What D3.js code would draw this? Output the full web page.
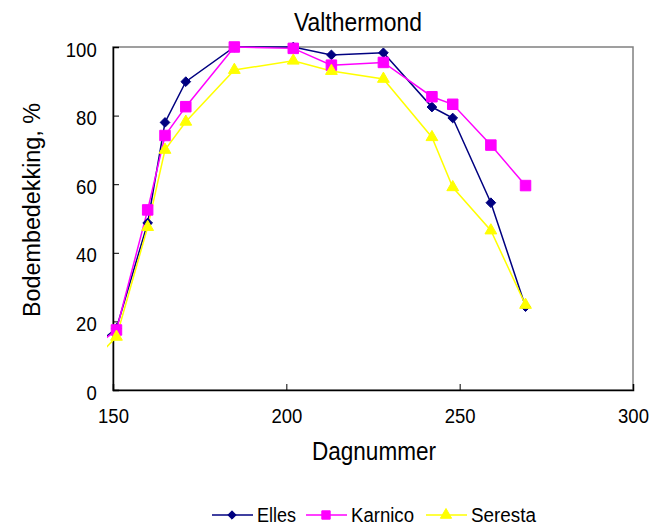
<!DOCTYPE html>
<html><head><meta charset="utf-8">
<script src="https://cdn.jsdelivr.net/npm/d3@7"></script>
<style>body{margin:0;background:#fff}svg{display:block}text{font-family:"Liberation Sans",Arial,sans-serif;fill:#000}</style>
</head><body><div id="chart"></div>
<script>
const days = [140, 151, 160, 165, 171, 185, 202, 213, 228, 242, 248, 259, 269];
const elles   = [9, 18, 48.7, 78, 89.9, 100, 100, 97.7, 98.3, 82.5, 79.3, 54.6, 24.3];
const karnico = [9, 17.5, 52.5, 74.2, 82.6, 100, 99.6, 94.7, 95.5, 85.5, 83.3, 71.4, 59.6];
const seresta = [4, 15.5, 47.5, 70, 78.2, 93.3, 96, 93, 90.7, 73.7, 59.1, 46.5, 24.8];
const xTicks = [150, 200, 250, 300];
const yTicks = [0, 20, 40, 60, 80, 100];
const seriesNames = ["Elles", "Karnico", "Seresta"];
const seriesColors = ["#000080", "#FF00FF", "#FFFF00"];
const seriesSymbols = [d3.symbolDiamond2, d3.symbolSquare, d3.symbolTriangle];

const W = 650, H = 526;
const svg = d3.select("#chart").append("svg").attr("width", W).attr("height", H);
const x = d3.scaleLinear().domain([150, 300]).range([113, 633]);
const y = d3.scaleLinear().domain([0, 100]).range([390, 47]);

svg.append("defs").append("clipPath").attr("id", "clip")
  .append("rect").attr("x", 107).attr("y", 38).attr("width", 534).attr("height", 358);

// plot box
svg.append("rect").attr("x", 113).attr("y", 47).attr("width", 520).attr("height", 343)
  .attr("fill", "none").attr("stroke", "#808080").attr("stroke-width", 1.5);

const gx = svg.append("g").attr("transform", "translate(0,390)")
  .call(d3.axisBottom(x).tickValues(xTicks).tickSize(-6).tickPadding(0).tickFormat(d3.format("d")));
const gy = svg.append("g").attr("transform", "translate(113,0)")
  .call(d3.axisLeft(y).tickValues(yTicks).tickSize(-6).tickPadding(16).tickFormat(d3.format("d")));
[gx, gy].forEach(g => {
  g.select(".domain").attr("stroke", "#000").attr("stroke-width", 1.5);
  g.selectAll(".tick line").attr("stroke", "#000").attr("stroke-width", 1);
  g.selectAll(".tick text").attr("font-size", 20).attr("font-family", "Liberation Sans, Arial, sans-serif")
    .attr("fill", "#000").attr("lengthAdjust", "spacingAndGlyphs")
    .attr("textLength", function () { return this.textContent.length * 10.3; });
});
gx.selectAll(".tick text").attr("dy", null).attr("y", 33);
gy.selectAll(".tick text").attr("x", -16.3).attr("dy", null).attr("y", 9);

const all = [elles, karnico, seresta];
const plot = svg.append("g").attr("clip-path", "url(#clip)");
const line = d3.line().x((d, i) => x(days[i])).y(d => y(d));
all.forEach((vals, k) => {
  plot.append("path").datum(vals).attr("d", line).attr("fill", "none")
    .attr("stroke", seriesColors[k]).attr("stroke-width", 1.5);
});
const markerSize = [60, 110, 60];
all.forEach((vals, k) => {
  const sym = d3.symbol().type(seriesSymbols[k]).size(markerSize[k]);
  plot.selectAll(null).data(vals.map((v, i) => [days[i], v]).filter(d => d[0] >= 150))
    .join("path").attr("d", sym)
    .attr("transform", d => `translate(${x(d[0])},${y(d[1])})`)
    .attr("fill", seriesColors[k]).attr("stroke", seriesColors[k]).attr("stroke-width", 1);
});

svg.append("text").attr("x", 358).attr("y", 31).attr("text-anchor", "middle")
  .attr("font-size", 26).attr("textLength", 128).attr("lengthAdjust", "spacingAndGlyphs").text("Valthermond");
svg.append("text").attr("x", 374).attr("y", 460).attr("text-anchor", "middle")
  .attr("font-size", 25).attr("textLength", 124).attr("lengthAdjust", "spacingAndGlyphs").text("Dagnummer");
svg.append("text").attr("transform", "translate(40,210) rotate(-90)").attr("text-anchor", "middle")
  .attr("font-size", 23).attr("textLength", 214).attr("lengthAdjust", "spacingAndGlyphs").text("Bodembedekking, %");

// legend
const legX = [212, 306, 426];
const legTextLen = [39, 63, 65];
const legMarker = [45, 70, 55];
seriesNames.forEach((name, k) => {
  const g = svg.append("g").attr("transform", `translate(${legX[k]},515)`);
  g.append("line").attr("x1", 0).attr("x2", 41).attr("stroke", seriesColors[k]).attr("stroke-width", 1.5);
  g.append("path").attr("d", d3.symbol().type(seriesSymbols[k]).size(legMarker[k]))
    .attr("transform", "translate(20,0)").attr("fill", seriesColors[k])
    .attr("stroke", seriesColors[k]).attr("stroke-width", 1);
  g.append("text").attr("x", 45).attr("y", 7).attr("font-size", 19.5)
    .attr("textLength", legTextLen[k]).attr("lengthAdjust", "spacingAndGlyphs").text(name);
});
</script></body></html>
